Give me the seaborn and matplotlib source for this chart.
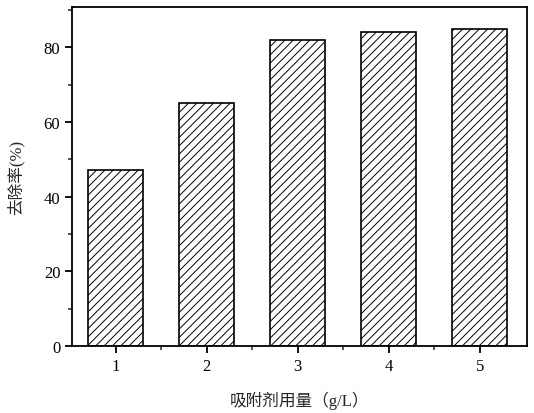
import matplotlib
matplotlib.use("Agg")
import matplotlib.pyplot as plt
import seaborn as sns
from matplotlib.ticker import MultipleLocator, FixedLocator

# 数据
dosage = ["1", "2", "3", "4", "5"]
removal = [47, 65, 82, 84, 85]

sns.set_style("ticks")
plt.rcParams['font.family'] = ['Liberation Serif', 'Noto Sans CJK SC']
plt.rcParams['hatch.linewidth'] = 0.7
plt.rcParams['hatch.color'] = '#333333'

fig, ax = plt.subplots(figsize=(5.34, 4.14), dpi=100)
sns.barplot(x=dosage, y=removal, color="white", edgecolor="black",
            linewidth=1.2, width=0.6, saturation=1, ax=ax)
for p in ax.patches:
    p.set_hatch("////")

ax.set_xlim(-0.48, 4.52)
ax.set_ylim(0, 90.7)
ax.yaxis.set_major_locator(MultipleLocator(20))
ax.yaxis.set_minor_locator(MultipleLocator(10))
ax.xaxis.set_minor_locator(FixedLocator([0.5, 1.5, 2.5, 3.5]))

for s in ax.spines.values():
    s.set_linewidth(1.3)
    s.set_color("black")
ax.tick_params(which="major", direction="out", length=5, width=1.3,
               labelsize=12, colors="black")
ax.tick_params(which="minor", direction="out", length=3, width=1.1)

ax.set_xlabel("吸附剂用量（g/L）", fontsize=12, labelpad=12)
ax.set_ylabel("去除率(%)", fontsize=12, labelpad=14)

fig.subplots_adjust(left=0.135, right=0.987, top=0.98, bottom=0.162)
plt.savefig("out.png", dpi=100)
